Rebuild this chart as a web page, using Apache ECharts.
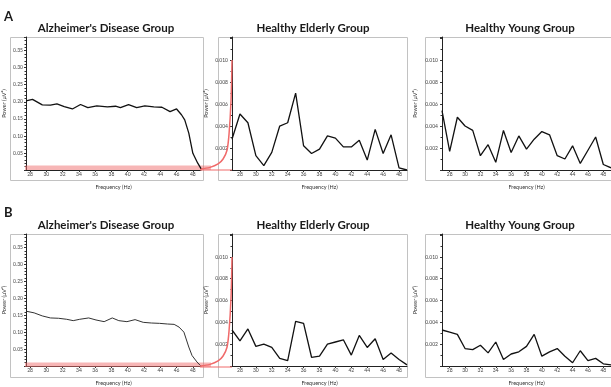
<!DOCTYPE html>
<html>
<head>
<meta charset="utf-8">
<script src="https://cdn.jsdelivr.net/npm/echarts@6/dist/echarts.min.js"></script>
<style>
  html, body { margin: 0; padding: 0; background: #fff; }
  #main { width: 611px; height: 387px; }
</style>
</head>
<body>
<div id="main"></div>
<script>
// tick labels
const freqTicks = [28, 30, 32, 34, 36, 38, 40, 42, 44, 46, 48];
const adPowerTicks = [0.05, 0.10, 0.15, 0.20, 0.25, 0.30, 0.35];
const healthyPowerTicks = [0.002, 0.004, 0.006, 0.008, 0.010];

// healthy groups: one point per Hz
const freqHz = [27, 28, 29, 30, 31, 32, 33, 34, 35, 36, 37, 38, 39, 40, 41, 42, 43, 44, 45, 46, 47, 48, 49];

// Alzheimer's group
const adFreqA = [27.5, 28.3, 29.5, 30.5, 31.3, 32.2, 33.2, 34.2, 35.1, 36.2, 37.5, 38.5, 39.1, 40.1, 41.1, 42.1, 43.2, 44.2, 45.2, 46.0, 46.6, 47.0, 47.5, 48.0, 48.6, 49.0];
const adPowerA = [0.203, 0.207, 0.191, 0.190, 0.194, 0.186, 0.179, 0.192, 0.183, 0.188, 0.185, 0.187, 0.183, 0.192, 0.183, 0.188, 0.185, 0.184, 0.171, 0.179, 0.162, 0.147, 0.108, 0.049, 0.020, 0.004];
const adFreqB = [27.5, 28.5, 29.5, 30.5, 31.5, 32.5, 33.3, 34.1, 35.2, 36.1, 37.1, 38.1, 38.9, 39.9, 40.9, 41.9, 42.9, 43.9, 44.9, 45.7, 46.3, 46.9, 47.5, 47.9, 48.5, 48.9];
const adPowerB = [0.162, 0.157, 0.148, 0.142, 0.141, 0.138, 0.134, 0.138, 0.142, 0.136, 0.131, 0.142, 0.134, 0.131, 0.137, 0.129, 0.127, 0.126, 0.124, 0.123, 0.115, 0.100, 0.056, 0.031, 0.012, 0.002];

const elderlyPowerA = [0.0028, 0.0051, 0.0043, 0.0013, 0.0004, 0.0016, 0.0040, 0.0043, 0.0070, 0.0022, 0.0015, 0.0019, 0.0031, 0.0029, 0.0021, 0.0021, 0.0027, 0.0009, 0.0037, 0.0015, 0.0032, 0.0002, 0.0000];
const youngPowerA = [0.0054, 0.0017, 0.0048, 0.0040, 0.0036, 0.0013, 0.0023, 0.0007, 0.0036, 0.0016, 0.0031, 0.0019, 0.0028, 0.0035, 0.0032, 0.0013, 0.0010, 0.0022, 0.0006, 0.0018, 0.0030, 0.0005, 0.0002];
const elderlyPowerB = [0.0033, 0.0023, 0.0034, 0.0018, 0.0020, 0.0017, 0.0007, 0.0005, 0.0041, 0.0039, 0.0008, 0.0009, 0.0020, 0.0022, 0.0024, 0.0010, 0.0028, 0.0017, 0.0025, 0.0006, 0.0012, 0.0006, 0.0001];
const youngPowerB = [0.0033, 0.0031, 0.0029, 0.0016, 0.0015, 0.0019, 0.0012, 0.0022, 0.0006, 0.0011, 0.0013, 0.0018, 0.0029, 0.0009, 0.0013, 0.0016, 0.0009, 0.0003, 0.0014, 0.0005, 0.0007, 0.0002, 0.0001];

// red zoom connector: x in the AD frequency scale (continued past 49), y in the healthy power scale
const linkFreq = [48.87, 50.09, 51.07, 51.68, 52.16, 52.41, 52.65, 52.77];
const linkPower = [0.0001, 0.00024, 0.00055, 0.001, 0.0018, 0.0033, 0.0063, 0.010];

const AD_MAX = 0.39;
const HEALTHY_MAX = 0.0121;
const LINK_MAX_HZ = 52.77;

const chart = echarts.init(document.getElementById('main'));

const pairs = (xs, ys) => xs.map((x, i) => [x, ys[i]]);
const smallText = { fontFamily: 'Lato', fontSize: 5, color: '#444' };

function xAx(gridIndex, min) {
  return {
    type: 'value', gridIndex, min, max: 49,
    name: 'Frequency (Hz)', nameLocation: 'middle', nameGap: 14,
    nameTextStyle: { fontFamily: 'Lato', fontSize: 5.5, color: '#333' },
    axisLine: { lineStyle: { color: '#222', width: 1 } },
    axisTick: { customValues: freqTicks, length: 2, lineStyle: { color: '#333' } },
    axisLabel: Object.assign({ customValues: freqTicks, margin: 2 }, smallText),
    splitLine: { show: false }
  };
}

function yAx(gridIndex, max, interval, labels, digits, gap, margin, minorSplit) {
  return {
    type: 'value', gridIndex, min: 0, max, interval,
    name: 'Power (μV²)', nameLocation: 'middle', nameGap: gap,
    nameTextStyle: { fontFamily: 'Lato', fontSize: 5.5, color: '#333' },
    axisLine: { show: true, onZero: false, lineStyle: { color: '#222', width: 1 } },
    axisTick: { show: true, length: 2, lineStyle: { color: '#333' } },
    minorTick: { show: true, splitNumber: minorSplit, length: 1.5, lineStyle: { color: '#333' } },
    axisLabel: Object.assign({
      margin,
      // label only the listed values, leave the other ticks blank
      formatter: v => labels.some(l => Math.abs(l - v) < 1e-9) ? v.toFixed(digits) : ''
    }, smallText),
    splitLine: { show: false }
  };
}

function hidden(gridIndex, min, max) {
  return { type: 'value', gridIndex, min, max, show: false, splitLine: { show: false } };
}

const rows = [37, 234];
const grids = [];
const xAxes = [];
const yAxes = [];
rows.forEach(top => {
  const base = grids.length;
  grids.push({ left: 25, top, width: 176, height: 133 });
  grids.push({ left: 232, top, width: 175, height: 133 });
  grids.push({ left: 442, top, width: 176, height: 133 });
  grids.push({ left: 25, top, width: 207, height: 133 });
  xAxes.push(xAx(base, 27.5), xAx(base + 1, 27), xAx(base + 2, 27), hidden(base + 3, 27.5, LINK_MAX_HZ));
  yAxes.push(
    yAx(base, AD_MAX, 0.05, adPowerTicks, 2, 19, 3, 5),
    yAx(base + 1, HEALTHY_MAX, 0.002, healthyPowerTicks, 3, 23, 4, 2),
    yAx(base + 2, HEALTHY_MAX, 0.002, healthyPowerTicks, 3, 24, 4, 2),
    hidden(base + 3, 0, HEALTHY_MAX)
  );
});

function dataLine(idx, data, width, color) {
  return {
    type: 'line', xAxisIndex: idx, yAxisIndex: idx, data,
    showSymbol: false, smooth: false, z: 5,
    lineStyle: { color, width }
  };
}

function linkSeries(idx) {
  return [
    {
      type: 'line', xAxisIndex: idx, yAxisIndex: idx, clip: false, z: 3,
      showSymbol: false, lineStyle: { width: 0 }, data: [],
      markArea: {
        silent: true,
        itemStyle: { color: 'rgba(240, 110, 110, 0.5)' },
        data: [[{ coord: [27.5, 0] }, { coord: [50.2, 0.0004] }]]
      }
    },
    {
      type: 'line', xAxisIndex: idx, yAxisIndex: idx, clip: false, z: 4,
      showSymbol: false, smooth: 0.3,
      lineStyle: { color: '#f06a6a', width: 1.5 },
      data: pairs(linkFreq, linkPower)
    },
    {
      type: 'line', xAxisIndex: idx, yAxisIndex: idx, clip: false, z: 4,
      showSymbol: false,
      lineStyle: { color: '#f06a6a', width: 1 },
      data: [[linkFreq[0], 0], [LINK_MAX_HZ, 0]]
    }
  ];
}

const series = [
  dataLine(0, pairs(adFreqA, adPowerA), 1.3, '#111'),
  dataLine(1, pairs(freqHz, elderlyPowerA), 1.3, '#111'),
  dataLine(2, pairs(freqHz, youngPowerA), 1.3, '#111'),
  ...linkSeries(3),
  dataLine(4, pairs(adFreqB, adPowerB), 1, '#333'),
  dataLine(5, pairs(freqHz, elderlyPowerB), 1.3, '#111'),
  dataLine(6, pairs(freqHz, youngPowerB), 1.3, '#111'),
  ...linkSeries(7)
];

function frame(x, y, w, h) {
  return {
    type: 'rect', z: 0, silent: true,
    shape: { x: x + 0.5, y: y + 0.5, width: w, height: h },
    style: { fill: 'none', stroke: '#c2c2c2', lineWidth: 1 }
  };
}
function label(text, x, y, size, align) {
  return {
    type: 'text', x, y, silent: true, z: 10,
    style: {
      text, align: align || 'center', verticalAlign: 'middle',
      font: 'bold ' + size + 'px Lato', fill: '#1a1a1a'
    }
  };
}

const graphic = [];
[[0, 'A', 17], [197, 'B', 213]].forEach(([dy, letter, ly]) => {
  graphic.push(
    frame(10, 37 + dy, 193, 143),
    frame(218, 37 + dy, 189, 143),
    frame(425, 37 + dy, 200, 143),
    label(letter, 4, ly, 13, 'left'),
    label("Alzheimer's Disease Group", 106, 28 + dy, 11.5),
    label('Healthy Elderly Group', 313, 28 + dy, 11.5),
    label('Healthy Young Group', 520, 28 + dy, 11.5)
  );
});

chart.setOption({
  animation: false,
  backgroundColor: '#fff',
  grid: grids,
  xAxis: xAxes,
  yAxis: yAxes,
  series,
  graphic
});
</script>
</body>
</html>
